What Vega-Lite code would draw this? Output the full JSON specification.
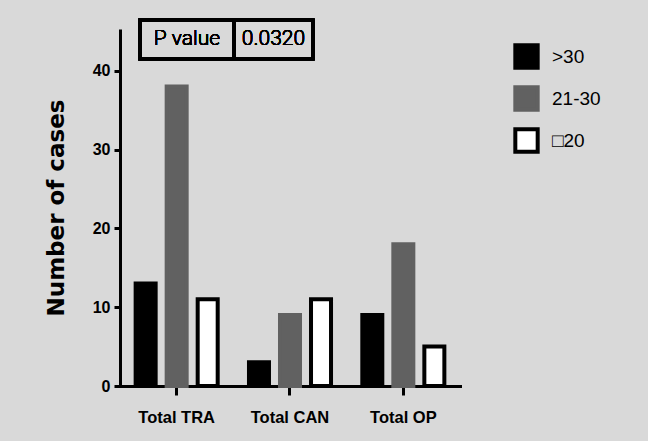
{
  "$schema": "https://vega.github.io/schema/vega-lite/v6.json",
  "width": 340,
  "height": 357,
  "autosize": {"type": "none"},
  "padding": {"left": 120, "top": 29, "right": 188, "bottom": 55},
  "background": "#d9d9d9",
  "config": {
    "view": {"stroke": null},
    "axis": {
      "domainColor": "black",
      "domainWidth": 3,
      "tickColor": "black",
      "tickWidth": 3,
      "grid": false,
      "labelFont": "Liberation Sans",
      "labelFontWeight": "bold",
      "labelFontSize": 16,
      "labelColor": "black"
    },
    "legend": {
      "title": null,
      "orient": "none",
      "legendX": 393,
      "legendY": 14,
      "padding": 0,
      "symbolType": "square",
      "symbolSize": 500,
      "symbolStrokeWidth": 4,
      "symbolOpacity": 1,
      "labelFont": "Liberation Sans",
      "labelFontSize": 19,
      "labelColor": "black",
      "labelOffset": 12,
      "rowPadding": 3
    }
  },
  "data": {
    "values": [
      {"category": "Total TRA", "age": ">30", "cases": 13},
      {"category": "Total TRA", "age": "21-30", "cases": 38},
      {"category": "Total TRA", "age": "□20", "cases": 11},
      {"category": "Total CAN", "age": ">30", "cases": 3},
      {"category": "Total CAN", "age": "21-30", "cases": 9},
      {"category": "Total CAN", "age": "□20", "cases": 11},
      {"category": "Total OP", "age": ">30", "cases": 9},
      {"category": "Total OP", "age": "21-30", "cases": 18},
      {"category": "Total OP", "age": "□20", "cases": 5}
    ]
  },
  "layer": [
    {
      "mark": {"type": "bar", "strokeWidth": 4, "fillOpacity": 1},
      "encoding": {
        "x": {
          "field": "category",
          "type": "nominal",
          "sort": ["Total TRA", "Total CAN", "Total OP"],
          "scale": {"paddingInner": 0.276, "paddingOuter": 0.138},
          "axis": {"title": null, "labelAngle": 0, "tickSize": 9, "labelPadding": 14, "labelFontSize": 16.5, "domainCap": "square"}
        },
        "xOffset": {
          "field": "age",
          "type": "nominal",
          "sort": [">30", "21-30", "□20"],
          "scale": {"paddingInner": 0.355}
        },
        "y": {
          "field": "cases",
          "type": "quantitative",
          "scale": {"domain": [0, 45.3], "nice": false, "zero": true},
          "axis": {
            "values": [0, 10, 20, 30, 40],
            "tickSize": 6,
            "labelPadding": 4,
            "title": "Number of cases",
            "titleFont": "DejaVu Sans",
            "titleFontWeight": "bold",
            "titleFontSize": 23,
            "titleColor": "black",
            "titlePadding": 24
          }
        },
        "fill": {
          "field": "age",
          "type": "nominal",
          "scale": {"domain": [">30", "21-30", "□20"], "range": ["#000000", "#616161", "#ffffff"]}
        },
        "stroke": {
          "field": "age",
          "type": "nominal",
          "scale": {"domain": [">30", "21-30", "□20"], "range": ["#000000", "#616161", "#000000"]}
        }
      }
    },
    {
      "mark": {"type": "rect", "fill": "transparent", "stroke": "black", "strokeWidth": 3},
      "encoding": {
        "x": {"datum": 0.176, "type": "quantitative", "scale": {"domain": [0, 3], "nice": false, "zero": false}, "axis": null},
        "x2": {"datum": 1.006},
        "y": {"datum": 46.44, "type": "quantitative"},
        "y2": {"datum": 41.49}
      }
    },
    {
      "mark": {"type": "rect", "fill": "transparent", "stroke": "black", "strokeWidth": 3},
      "encoding": {
        "x": {"datum": 1.006, "type": "quantitative", "scale": {"domain": [0, 3], "nice": false, "zero": false}, "axis": null},
        "x2": {"datum": 1.703},
        "y": {"datum": 46.44, "type": "quantitative"},
        "y2": {"datum": 41.49}
      }
    },
    {
      "mark": {"type": "text", "text": "P value", "font": "Roboto", "fontWeight": 300, "fontSize": 21, "fill": "black", "stroke": "transparent", "baseline": "middle", "align": "center"},
      "encoding": {
        "x": {"datum": 0.591, "type": "quantitative", "scale": {"domain": [0, 3], "nice": false, "zero": false}, "axis": null},
        "y": {"datum": 44.0, "type": "quantitative"}
      }
    },
    {
      "mark": {"type": "text", "text": "0.0320", "font": "Roboto", "fontWeight": 300, "fontSize": 21, "fill": "black", "stroke": "transparent", "baseline": "middle", "align": "center"},
      "encoding": {
        "x": {"datum": 1.354, "type": "quantitative", "scale": {"domain": [0, 3], "nice": false, "zero": false}, "axis": null},
        "y": {"datum": 44.0, "type": "quantitative"}
      }
    }
  ],
  "resolve": {"scale": {"x": "independent"}}
}
